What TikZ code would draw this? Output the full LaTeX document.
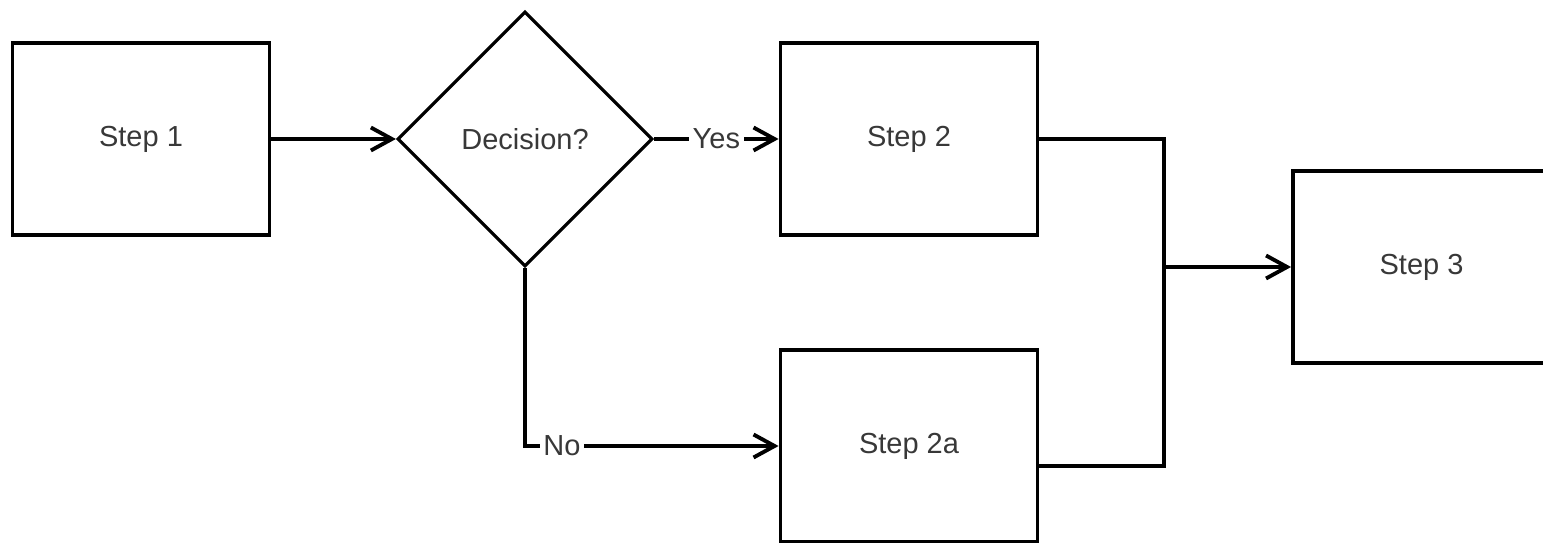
\documentclass[tikz,border=0pt]{standalone}
\usepackage{fontspec}
\setmainfont{Liberation Sans}
\usepackage{tikz}
\usetikzlibrary{arrows.meta,shapes.geometric}

\begin{document}
\begin{tikzpicture}[->,>={Straight Barb[length=4.2mm,width=4.6mm]},node distance=7.68cm,
                    line width=2.2pt,
                    stepbox/.style={rectangle,draw,minimum width=5.14cm,minimum height=3.84cm,
                                    text=black!78,font=\fontsize{16.5}{18}\selectfont},
                    decision/.style={diamond,draw,line width=1.8pt,aspect=1,minimum width=5.1cm,
                                     minimum height=5.1cm,inner sep=0pt,text=black!78,
                                     font=\fontsize{16.5}{18}\selectfont},
                    tag/.style={fill=white,inner sep=2pt,text=black!78,
                                font=\fontsize{16.5}{18}\selectfont}]

  \useasboundingbox (0,0) rectangle (30.86,-10.86);
  \clip (0,0) rectangle (30.86,-10.86);

  \node[stepbox] (S1) at (2.82,-2.78)                          {Step 1};
  \node[decision] (D) [right of=S1]                             {Decision?};
  \node[stepbox] (S2) [right of=D]                              {Step 2};
  \node[stepbox] (S2a) [below of=S2,node distance=6.14cm]       {Step 2a};
  \node[stepbox] (S3) [right of=S2,node distance=10.25cm,yshift=-2.56cm] {Step 3};
  \node[coordinate] (J) [left of=S3,node distance=5.15cm]      {};

  \path (S1) edge                        (D)
        (D)  edge node[tag,pos=0.5] {Yes} (S2);
  \draw (D) |- node[tag,pos=0.573] {No} (S2a);

  \draw[-] (S2.east) -| (J) |- ([yshift=-0.4cm]S2a.east);
  \draw (J) -- (S3);

\end{tikzpicture}
\end{document}
